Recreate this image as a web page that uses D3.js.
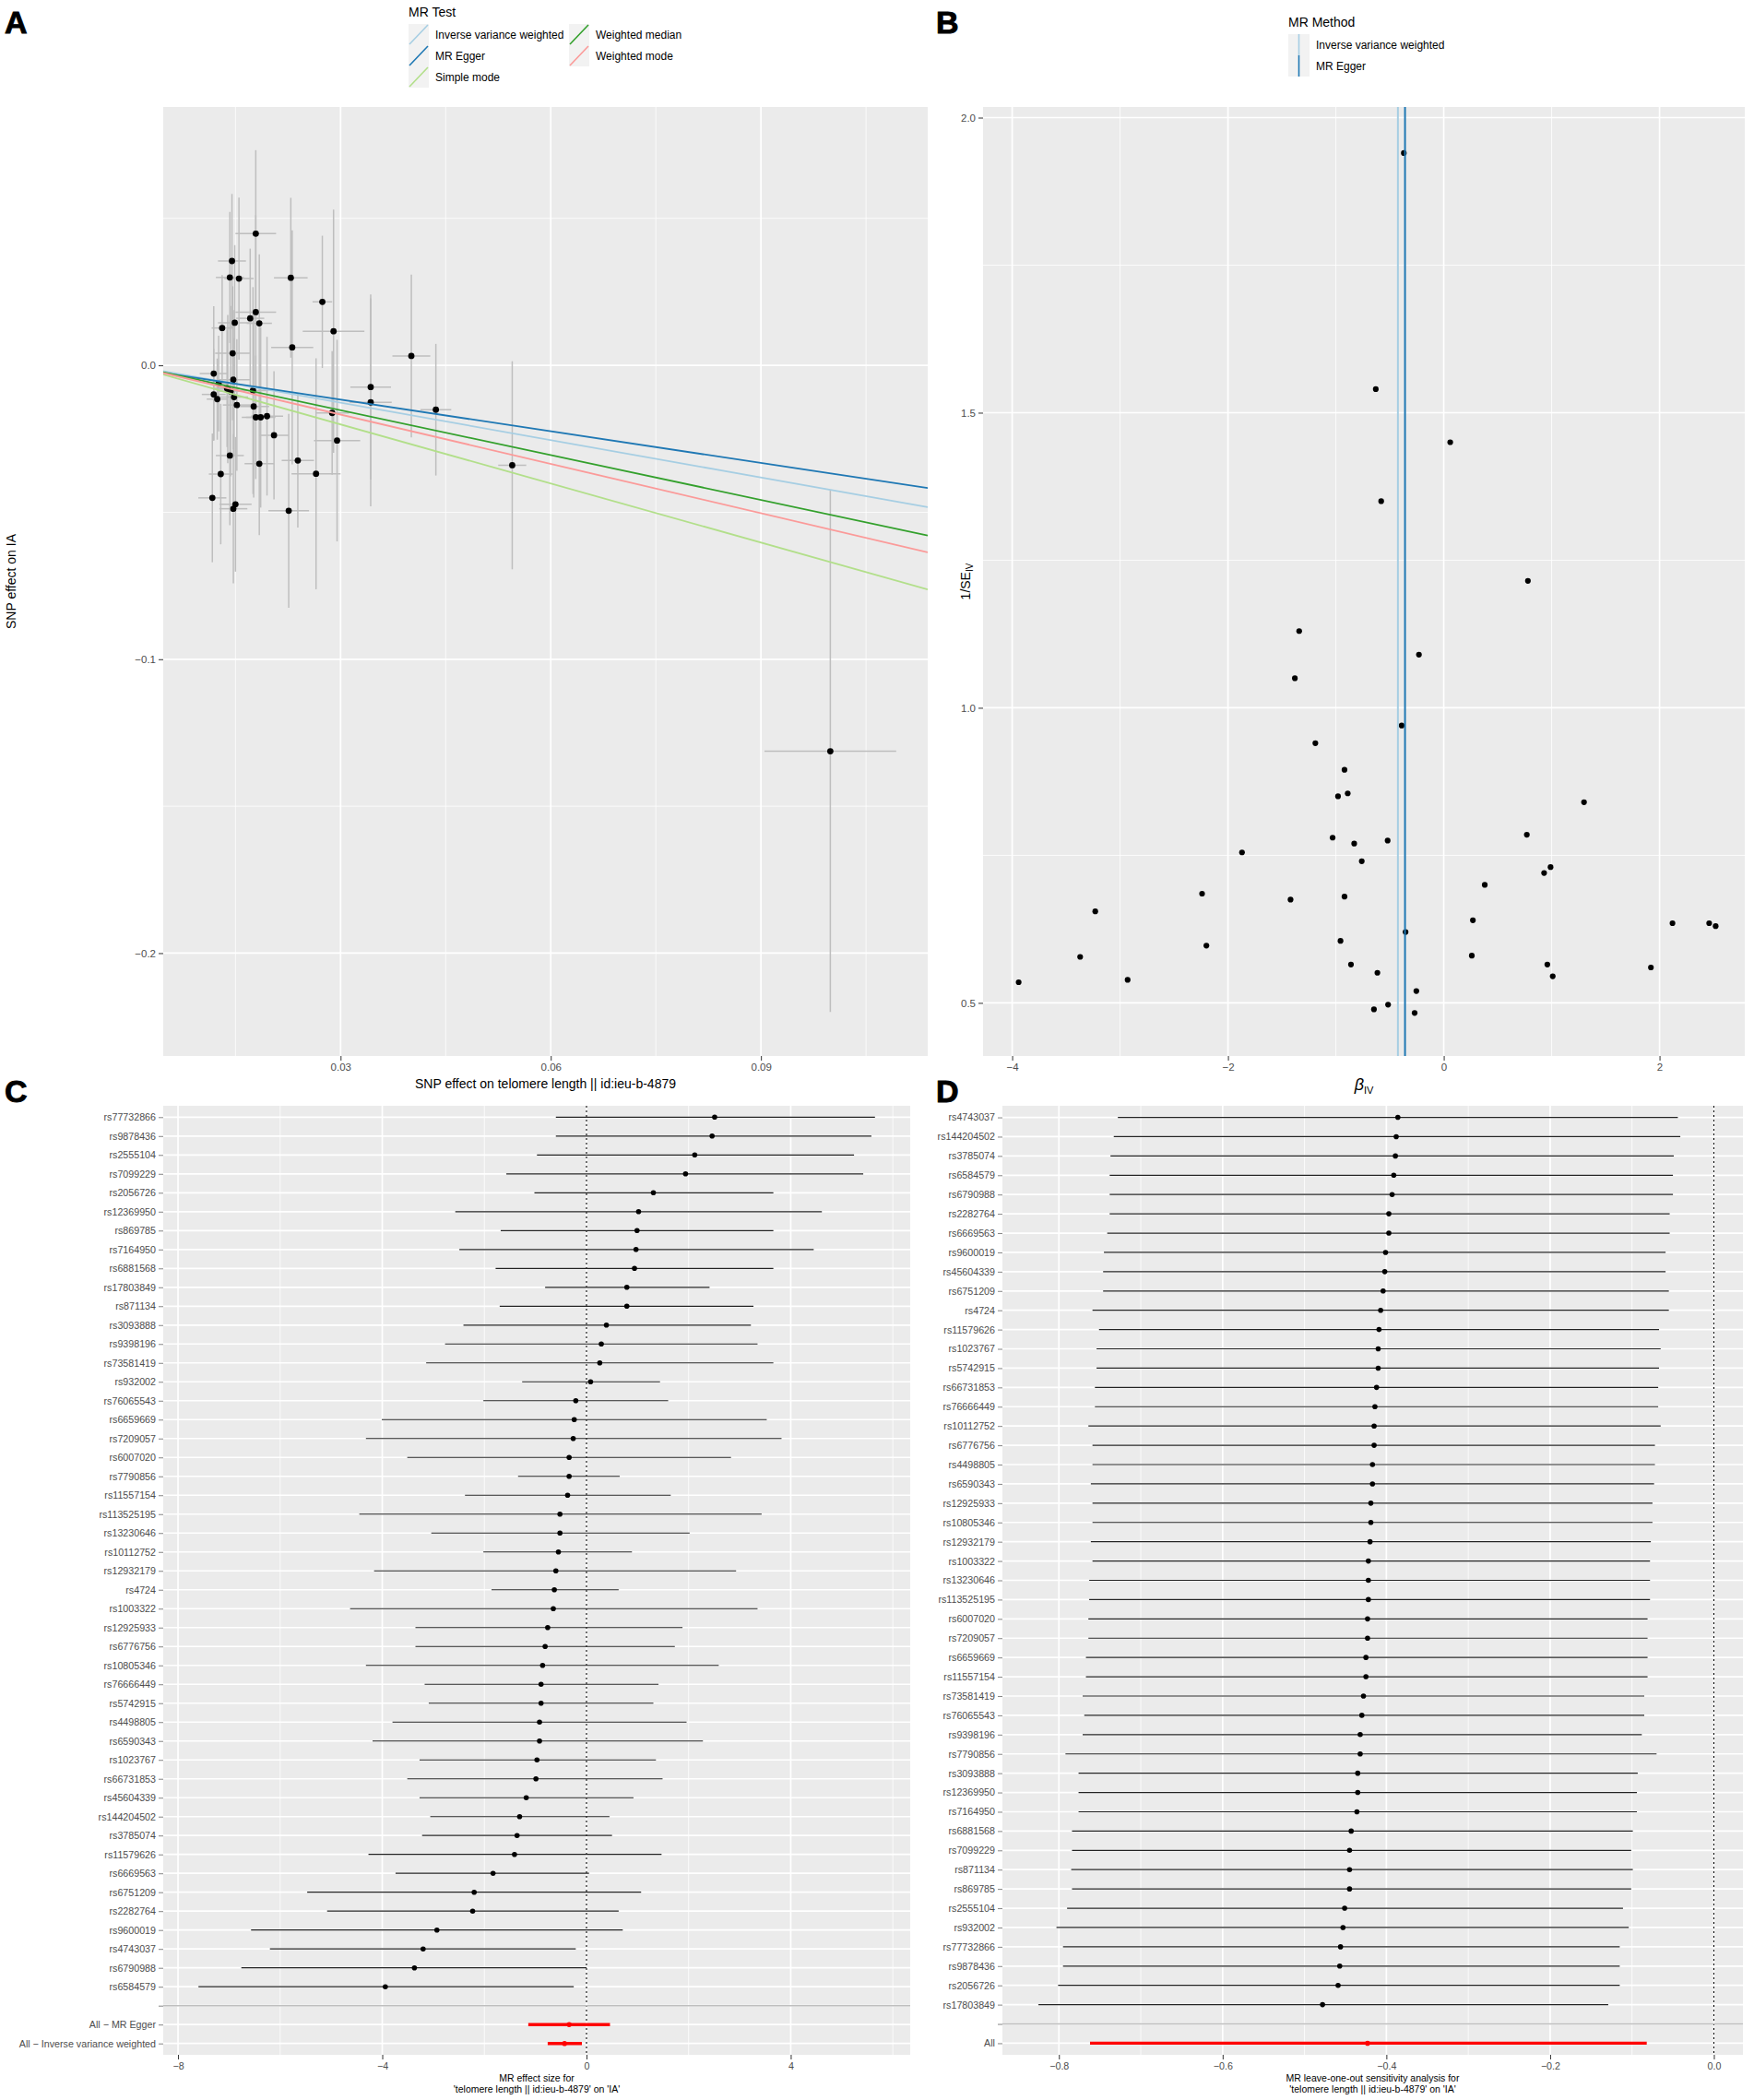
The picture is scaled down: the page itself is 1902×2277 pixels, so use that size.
<!DOCTYPE html>
<html>
<head>
<meta charset="utf-8">
<script src="https://cdn.jsdelivr.net/npm/d3@7"></script>
<style>
  body { margin: 0; background: #fff; }
  svg { display: block; }
  text { font-family: "Liberation Sans", Arial, Helvetica, sans-serif; }
</style>
</head>
<body>
<svg id="fig" width="1902" height="2277"></svg>
<script>
/* ---------- A: scatter, SNP effects ---------- */
const scatterBx   = [0.0179,0.0145,0.0142,0.0155,0.0229,0.0274,0.0290,0.0179,0.0171,0.0149,0.0184,0.0131,0.0231,0.0146,0.0401,0.0119,0.0147,0.0126,0.0139,0.0143,0.0175,0.0119,0.0148,0.0124,0.0152,0.0343,0.0343,0.0176,0.0179,0.0186,0.0195,0.0288,0.0436,0.0205,0.0295,0.0142,0.0184,0.0239,0.0129,0.0265,0.0117,0.0150,0.0147,0.0226,0.0545,0.0999,0.0138];
const scatterBy   = [0.0448,0.0355,0.0299,0.0295,0.0298,0.0216,0.0116,0.0181,0.0160,0.0145,0.0143,0.0127,0.0061,0.0041,0.0032,-0.0028,-0.0049,-0.0062,-0.0081,-0.0088,-0.0086,-0.0099,-0.0108,-0.0115,-0.0135,-0.0074,-0.0126,-0.0140,-0.0177,-0.0177,-0.0173,-0.0162,-0.0151,-0.0238,-0.0256,-0.0307,-0.0335,-0.0324,-0.0370,-0.0369,-0.0451,-0.0473,-0.0488,-0.0495,-0.0340,-0.1313,-0.0078];
const scatterSeBx = [0.0029,0.0020,0.0020,0.0021,0.0024,0.0014,0.0044,0.0029,0.0020,0.0024,0.0018,0.0015,0.0030,0.0025,0.0027,0.0020,0.0024,0.0015,0.0016,0.0018,0.0022,0.0017,0.0020,0.0015,0.0020,0.0029,0.0030,0.0022,0.0020,0.0021,0.0023,0.0024,0.0022,0.0021,0.0033,0.0020,0.0021,0.0023,0.0017,0.0035,0.0020,0.0023,0.0020,0.0029,0.0020,0.0094,0.0018];
const scatterSeBy = [0.0284,0.0228,0.0223,0.0276,0.0272,0.0225,0.0414,0.0330,0.0237,0.0264,0.0235,0.0180,0.0398,0.0228,0.0277,0.0229,0.0237,0.0163,0.0252,0.0290,0.0352,0.0155,0.0200,0.0138,0.0224,0.0315,0.0354,0.0310,0.0210,0.0307,0.0270,0.0210,0.0224,0.0218,0.0343,0.0237,0.0243,0.0228,0.0239,0.0393,0.0219,0.0229,0.0254,0.0330,0.0354,0.0887,0.0200];
const mrMethods    = ["Inverse variance weighted","MR Egger","Simple mode","Weighted median","Weighted mode"];
const mrSlopes     = [-0.424,-0.359,-0.670,-0.509,-0.559];
const mrIntercepts = [0,-0.0009,0,0,0];
const scatterTicksX = [0.03,0.06,0.09];
const scatterTicksY = [-0.2,-0.1,0.0];

/* ---------- B: funnel ---------- */
const funnelBeta  = [-0.37,-0.63,-0.58,0.06,0.78,-1.34,-0.23,-1.38,-0.39,-1.19,-0.92,-0.89,-0.98,1.30,-1.03,-0.83,-0.52,-0.76,-1.87,0.77,-2.24,-1.42,-0.92,0.38,0.99,0.93,-3.23,0.27,-0.354,2.12,2.46,2.52,-2.20,-0.957,-3.37,0.26,-0.86,0.96,1.92,-0.615,1.01,-2.93,-3.94,-0.254,-0.516,-0.647,-0.27];
const funnelInvSe = [1.94,1.54,1.35,1.45,1.215,1.13,1.09,1.05,0.97,0.94,0.895,0.855,0.85,0.84,0.78,0.77,0.775,0.74,0.755,0.785,0.685,0.675,0.68,0.70,0.73,0.72,0.655,0.64,0.62,0.635,0.635,0.63,0.597,0.605,0.578,0.58,0.565,0.565,0.56,0.551,0.545,0.539,0.535,0.52,0.497,0.489,0.483];
const funnelMethods   = ["Inverse variance weighted","MR Egger"];
const funnelEstimates = [-0.425,-0.359];
const funnelTicksX = [-4,-2,0,2];
const funnelTicksY = [0.5,1.0,1.5,2.0];

/* ---------- C: forest ---------- */
const forestSnps = ["rs77732866","rs9878436","rs2555104","rs7099229","rs2056726","rs12369950","rs869785","rs7164950","rs6881568","rs17803849","rs871134","rs3093888","rs9398196","rs73581419","rs932002","rs76065543","rs6659669","rs7209057","rs6007020","rs7790856","rs11557154","rs113525195","rs13230646","rs10112752","rs12932179","rs4724","rs1003322","rs12925933","rs6776756","rs10805346","rs76666449","rs5742915","rs4498805","rs6590343","rs1023767","rs66731853","rs45604339","rs144204502","rs3785074","rs11579626","rs6669563","rs6751209","rs2282764","rs9600019","rs4743037","rs6790988","rs6584579"];
const forestB  = [2.51,2.46,2.12,1.94,1.31,1.02,0.99,0.97,0.94,0.79,0.79,0.39,0.29,0.26,0.08,-0.21,-0.24,-0.26,-0.34,-0.34,-0.37,-0.52,-0.52,-0.55,-0.60,-0.63,-0.65,-0.76,-0.81,-0.86,-0.89,-0.89,-0.92,-0.92,-0.97,-0.99,-1.18,-1.31,-1.36,-1.41,-1.83,-2.20,-2.23,-2.93,-3.20,-3.37,-3.94];
const forestLo = [-0.60,-0.60,-0.97,-1.57,-1.02,-2.57,-1.68,-2.49,-1.78,-0.81,-1.70,-2.41,-2.77,-3.14,-1.26,-2.02,-4.01,-4.32,-3.51,-1.34,-2.38,-4.45,-3.04,-2.02,-4.16,-1.86,-4.63,-3.35,-3.35,-4.32,-3.17,-3.09,-3.80,-4.19,-3.27,-3.51,-3.27,-3.06,-3.22,-4.27,-3.74,-5.47,-5.08,-6.57,-6.20,-6.76,-7.60];
const forestHi = [5.65,5.58,5.24,5.42,3.66,4.61,3.66,4.45,3.66,2.41,3.27,3.22,3.35,3.66,1.44,1.60,3.53,3.82,2.83,0.65,1.65,3.43,2.02,0.89,2.93,0.63,3.35,1.88,1.73,2.59,1.41,1.31,1.96,2.28,1.36,1.49,0.92,0.45,0.50,1.47,0.05,1.07,0.63,0.71,-0.21,0.00,-0.25];
const forestAll   = ["All − MR Egger","All − Inverse variance weighted"];
const forestAllB  = [-0.34,-0.43];
const forestAllLo = [-1.14,-0.76];
const forestAllHi = [0.46,-0.09];
const forestTicks = [-8,-4,0,4];

/* ---------- D: leave-one-out ---------- */
const looSnps = ["rs4743037","rs144204502","rs3785074","rs6584579","rs6790988","rs2282764","rs6669563","rs9600019","rs45604339","rs6751209","rs4724","rs11579626","rs1023767","rs5742915","rs66731853","rs76666449","rs10112752","rs6776756","rs4498805","rs6590343","rs12925933","rs10805346","rs12932179","rs1003322","rs13230646","rs113525195","rs6007020","rs7209057","rs6659669","rs11557154","rs73581419","rs76065543","rs9398196","rs7790856","rs3093888","rs12369950","rs7164950","rs6881568","rs7099229","rs871134","rs869785","rs2555104","rs932002","rs77732866","rs9878436","rs2056726","rs17803849"];
const looB  = [-0.386,-0.388,-0.389,-0.391,-0.393,-0.397,-0.397,-0.401,-0.402,-0.404,-0.407,-0.409,-0.410,-0.410,-0.412,-0.414,-0.415,-0.415,-0.417,-0.417,-0.419,-0.419,-0.420,-0.422,-0.422,-0.422,-0.423,-0.423,-0.425,-0.425,-0.428,-0.430,-0.432,-0.432,-0.435,-0.435,-0.436,-0.443,-0.445,-0.445,-0.445,-0.451,-0.453,-0.456,-0.457,-0.459,-0.478];
const looLo = [-0.728,-0.733,-0.737,-0.738,-0.738,-0.738,-0.741,-0.745,-0.746,-0.746,-0.759,-0.751,-0.754,-0.754,-0.756,-0.756,-0.764,-0.759,-0.759,-0.761,-0.759,-0.759,-0.761,-0.759,-0.763,-0.763,-0.764,-0.764,-0.767,-0.767,-0.771,-0.769,-0.771,-0.792,-0.776,-0.776,-0.776,-0.784,-0.784,-0.785,-0.784,-0.790,-0.803,-0.795,-0.795,-0.801,-0.825];
const looHi = [-0.044,-0.041,-0.049,-0.050,-0.050,-0.054,-0.054,-0.059,-0.059,-0.055,-0.055,-0.067,-0.065,-0.067,-0.068,-0.068,-0.065,-0.072,-0.072,-0.073,-0.075,-0.075,-0.077,-0.078,-0.078,-0.078,-0.081,-0.081,-0.081,-0.081,-0.085,-0.085,-0.088,-0.070,-0.093,-0.094,-0.094,-0.099,-0.101,-0.099,-0.101,-0.111,-0.104,-0.115,-0.115,-0.115,-0.129];
const looAll   = ["All"];
const looAllB  = [-0.423];
const looAllLo = [-0.762];
const looAllHi = [-0.082];
const looTicks = [-0.8,-0.6,-0.4,-0.2,0.0];

/* ---------- dibujo ---------- */
const svg = d3.select('#fig');
const mrColors = ["#a6cee3","#1f78b4","#b2df8a","#33a02c","#fb9a99"];
const panelFill = '#ebebeb';

function panel(box, xs, ys, xMajor, xMinor, yMajor, yMinor) {
  const g = svg.append('g');
  g.append('rect').attr('x', box.x0).attr('y', box.y0)
    .attr('width', box.x1 - box.x0).attr('height', box.y1 - box.y0).attr('fill', panelFill);
  g.selectAll('line.vmin').data(xMinor).join('line').attr('class', 'vmin')
    .attr('x1', d => xs(d)).attr('x2', d => xs(d)).attr('y1', box.y0).attr('y2', box.y1)
    .attr('stroke', '#fff').attr('stroke-width', 0.8);
  g.selectAll('line.hmin').data(yMinor).join('line').attr('class', 'hmin')
    .attr('y1', d => ys(d)).attr('y2', d => ys(d)).attr('x1', box.x0).attr('x2', box.x1)
    .attr('stroke', '#fff').attr('stroke-width', 0.8);
  g.selectAll('line.vmaj').data(xMajor).join('line').attr('class', 'vmaj')
    .attr('x1', d => xs(d)).attr('x2', d => xs(d)).attr('y1', box.y0).attr('y2', box.y1)
    .attr('stroke', '#fff').attr('stroke-width', 1.7);
  g.selectAll('line.hmaj').data(yMajor).join('line').attr('class', 'hmaj')
    .attr('y1', d => ys(d)).attr('y2', d => ys(d)).attr('x1', box.x0).attr('x2', box.x1)
    .attr('stroke', '#fff').attr('stroke-width', 1.7);
  return g;
}

function styleAxis(a, size, tickW) {
  a.select('.domain').remove();
  a.selectAll('.tick line').attr('stroke', '#333').attr('stroke-width', tickW);
  a.selectAll('.tick text').attr('fill', '#4d4d4d').attr('font-size', size)
    .attr('font-family', '"Liberation Sans", Arial, sans-serif');
}

function clip(id, box) {
  svg.append('clipPath').attr('id', id).append('rect')
    .attr('x', box.x0).attr('y', box.y0).attr('width', box.x1 - box.x0).attr('height', box.y1 - box.y0);
}

/* letras de panel */
[['A', 5, 36], ['B', 1015, 36], ['C', 5, 1195], ['D', 1015, 1195]].forEach(([t, x, y]) => {
  svg.append('text').attr('x', x).attr('y', y).text(t)
    .attr('font-size', 34).attr('font-weight', 'bold').attr('fill', '#000')
    .attr('stroke', '#000').attr('stroke-width', 0.9);
});

/* ===== Panel A ===== */
const boxA = {x0: 177, x1: 1006, y0: 116, y1: 1145};
const ax = d3.scaleLinear().domain([0.00469, 0.1138]).range([boxA.x0, boxA.x1]);
const ay = d3.scaleLinear().domain([-0.235, 0.0879]).range([boxA.y1, boxA.y0]);
panel(boxA, ax, ay, scatterTicksX, [0.015,0.045,0.075,0.105], scatterTicksY, [-0.15,-0.05,0.05]);
clip('clipA', boxA);
const gA = svg.append('g').attr('clip-path', 'url(#clipA)');
const idxA = d3.range(scatterBx.length);
gA.selectAll('line.ev').data(idxA).join('line').attr('class', 'ev')
  .attr('x1', i => ax(scatterBx[i])).attr('x2', i => ax(scatterBx[i]))
  .attr('y1', i => ay(scatterBy[i] - scatterSeBy[i])).attr('y2', i => ay(scatterBy[i] + scatterSeBy[i]))
  .attr('stroke', '#bebebe').attr('stroke-width', 1.5);
gA.selectAll('line.eh').data(idxA).join('line').attr('class', 'eh')
  .attr('y1', i => ay(scatterBy[i])).attr('y2', i => ay(scatterBy[i]))
  .attr('x1', i => ax(scatterBx[i] - scatterSeBx[i])).attr('x2', i => ax(scatterBx[i] + scatterSeBx[i]))
  .attr('stroke', '#bebebe').attr('stroke-width', 1.5);
gA.selectAll('circle').data(idxA).join('circle')
  .attr('cx', i => ax(scatterBx[i])).attr('cy', i => ay(scatterBy[i])).attr('r', 3.4).attr('fill', '#000');
const xd = ax.domain();
gA.selectAll('line.fit').data(d3.range(mrMethods.length)).join('line').attr('class', 'fit')
  .attr('x1', ax(xd[0])).attr('x2', ax(xd[1]))
  .attr('y1', i => ay(mrIntercepts[i] + mrSlopes[i] * xd[0]))
  .attr('y2', i => ay(mrIntercepts[i] + mrSlopes[i] * xd[1]))
  .attr('stroke', i => mrColors[i]).attr('stroke-width', 1.8);

styleAxis(svg.append('g').attr('transform', `translate(0,${boxA.y1})`)
  .call(d3.axisBottom(ax).tickValues(scatterTicksX).tickFormat(d3.format('.2f')).tickSize(5).tickPadding(3)), 11.5, 1);
styleAxis(svg.append('g').attr('transform', `translate(${boxA.x0},0)`)
  .call(d3.axisLeft(ay).tickValues(scatterTicksY).tickFormat(d3.format('.1f')).tickSize(5).tickPadding(3)), 11.5, 1);
svg.append('text').attr('x', (boxA.x0 + boxA.x1) / 2).attr('y', 1180).attr('text-anchor', 'middle')
  .attr('font-size', 14).text('SNP effect on telomere length || id:ieu-b-4879');
svg.append('text').attr('transform', `translate(17,${(boxA.y0 + boxA.y1) / 2}) rotate(-90)`)
  .attr('text-anchor', 'middle').attr('font-size', 14).text('SNP effect on IA');

/* leyenda A */
const legA = svg.append('g').attr('transform', 'translate(443,0)');
legA.append('text').attr('x', 0).attr('y', 18).attr('font-size', 14).text('MR Test');
mrMethods.forEach((m, i) => {
  const kx = Math.floor(i / 3) * 174, ky = 26 + (i % 3) * 23;
  legA.append('rect').attr('x', kx).attr('y', ky).attr('width', 22).attr('height', 23).attr('fill', '#f2f2f2');
  legA.append('line').attr('x1', kx + 1).attr('y1', ky + 22).attr('x2', kx + 21).attr('y2', ky + 1)
    .attr('stroke', mrColors[i]).attr('stroke-width', 1.6);
  legA.append('text').attr('x', kx + 29).attr('y', ky + 11.5).attr('dy', '0.35em').attr('font-size', 12).text(m);
});

/* ===== Panel B ===== */
const boxB = {x0: 1066, x1: 1892, y0: 116, y1: 1145};
const bx = d3.scaleLinear().domain([-4.27, 2.79]).range([boxB.x0, boxB.x1]);
const by = d3.scaleLinear().domain([0.41, 2.018]).range([boxB.y1, boxB.y0]);
panel(boxB, bx, by, funnelTicksX, [-3,-1,1], funnelTicksY, [0.75,1.25,1.75]);
svg.append('g').selectAll('circle').data(d3.range(funnelBeta.length)).join('circle')
  .attr('cx', i => bx(funnelBeta[i])).attr('cy', i => by(funnelInvSe[i])).attr('r', 3.1).attr('fill', '#000');
svg.append('g').selectAll('line').data(d3.range(funnelMethods.length)).join('line')
  .attr('x1', i => bx(funnelEstimates[i])).attr('x2', i => bx(funnelEstimates[i]))
  .attr('y1', boxB.y0).attr('y2', boxB.y1)
  .attr('stroke', i => mrColors[i]).attr('stroke-width', 2);
styleAxis(svg.append('g').attr('transform', `translate(0,${boxB.y1})`)
  .call(d3.axisBottom(bx).tickValues(funnelTicksX).tickFormat(d3.format('d')).tickSize(5).tickPadding(3)), 11.5, 1);
styleAxis(svg.append('g').attr('transform', `translate(${boxB.x0},0)`)
  .call(d3.axisLeft(by).tickValues(funnelTicksY).tickFormat(d3.format('.1f')).tickSize(5).tickPadding(3)), 11.5, 1);
const bxt = svg.append('text').attr('x', (boxB.x0 + boxB.x1) / 2).attr('y', 1182).attr('text-anchor', 'middle');
bxt.append('tspan').attr('font-size', 18).attr('font-style', 'italic').text('β');
bxt.append('tspan').attr('font-size', 11).attr('dy', 4).text('IV');
const byt = svg.append('text').attr('transform', `translate(1052,${(boxB.y0 + boxB.y1) / 2}) rotate(-90)`)
  .attr('text-anchor', 'middle');
byt.append('tspan').attr('font-size', 14).text('1/SE');
byt.append('tspan').attr('font-size', 10).attr('dy', 3).text('IV');

/* leyenda B */
const legB = svg.append('g').attr('transform', 'translate(1397,0)');
legB.append('text').attr('x', 0).attr('y', 29).attr('font-size', 14).text('MR Method');
funnelMethods.forEach((m, i) => {
  const ky = 37 + i * 23;
  legB.append('rect').attr('x', 0).attr('y', ky).attr('width', 23).attr('height', 23).attr('fill', '#f2f2f2');
  legB.append('line').attr('x1', 11.5).attr('x2', 11.5).attr('y1', ky).attr('y2', ky + 23)
    .attr('stroke', mrColors[i]).attr('stroke-width', 1.6);
  legB.append('text').attr('x', 30).attr('y', ky + 11.5).attr('dy', '0.35em').attr('font-size', 12).text(m);
});

/* ===== Panel C / D (forest style) ===== */
function forest(box, xs, ys, majors, minors, snps, b, lo, hi, allNames, allB, allLo, allHi, wAll) {
  panel(box, xs, ys, majors, minors, ys.domain(), []);
  svg.append('line').attr('x1', xs(0)).attr('x2', xs(0)).attr('y1', box.y0).attr('y2', box.y1)
    .attr('stroke', '#000').attr('stroke-width', 1.1).attr('stroke-dasharray', '2,3');
  const g = svg.append('g');
  g.selectAll('line.snp').data(snps).join('line').attr('class', 'snp')
    .attr('y1', d => ys(d)).attr('y2', d => ys(d))
    .attr('x1', (d, i) => xs(lo[i])).attr('x2', (d, i) => xs(hi[i]))
    .attr('stroke', '#222').attr('stroke-width', 1.2);
  g.selectAll('line.all').data(allNames).join('line').attr('class', 'all')
    .attr('y1', d => ys(d)).attr('y2', d => ys(d))
    .attr('x1', (d, i) => xs(allLo[i])).attr('x2', (d, i) => xs(allHi[i]))
    .attr('stroke', '#ff0000').attr('stroke-width', wAll);
  g.selectAll('circle.snp').data(snps).join('circle').attr('class', 'snp')
    .attr('cx', (d, i) => xs(b[i])).attr('cy', d => ys(d)).attr('r', 2.8).attr('fill', '#000');
  g.selectAll('circle.all').data(allNames).join('circle').attr('class', 'all')
    .attr('cx', (d, i) => xs(allB[i])).attr('cy', d => ys(d)).attr('r', 2.8).attr('fill', '#ff0000');
  svg.append('line').attr('x1', box.x0).attr('x2', box.x1).attr('y1', ys('')).attr('y2', ys(''))
    .attr('stroke', '#bebebe').attr('stroke-width', 1.6);
  styleAxis(svg.append('g').attr('transform', `translate(${box.x0},0)`)
    .call(d3.axisLeft(ys).tickSize(5).tickPadding(3)), 10.7, 0.6);
}

const boxC = {x0: 177, x1: 987, y0: 1199, y1: 2228};
const cx = d3.scaleLinear().domain([-8.29, 6.34]).range([boxC.x0, boxC.x1]);
const cy = d3.scalePoint().domain([...forestSnps, '', ...forestAll]).range([boxC.y0, boxC.y1]).padding(0.6);
forest(boxC, cx, cy, forestTicks, [-6,-2,2,6], forestSnps, forestB, forestLo, forestHi,
  forestAll, forestAllB, forestAllLo, forestAllHi, 3.4);
styleAxis(svg.append('g').attr('transform', `translate(0,${boxC.y1})`)
  .call(d3.axisBottom(cx).tickValues(forestTicks).tickFormat(d3.format('d')).tickSize(5).tickPadding(3)), 10.7, 1);
svg.append('text').attr('x', (boxC.x0 + boxC.x1) / 2).attr('y', 2257).attr('text-anchor', 'middle')
  .attr('font-size', 10.5).text('MR effect size for');
svg.append('text').attr('x', (boxC.x0 + boxC.x1) / 2).attr('y', 2269).attr('text-anchor', 'middle')
  .attr('font-size', 10.5).text("'telomere length || id:ieu-b-4879' on 'IA'");

const boxD = {x0: 1087, x1: 1890, y0: 1199, y1: 2228};
const dx = d3.scaleLinear().domain([-0.869, 0.0355]).range([boxD.x0, boxD.x1]);
const dy = d3.scalePoint().domain([...looSnps, '', ...looAll]).range([boxD.y0, boxD.y1]).padding(0.6);
forest(boxD, dx, dy, looTicks, [-0.7,-0.5,-0.3,-0.1], looSnps, looB, looLo, looHi,
  looAll, looAllB, looAllLo, looAllHi, 3.2);
styleAxis(svg.append('g').attr('transform', `translate(0,${boxD.y1})`)
  .call(d3.axisBottom(dx).tickValues(looTicks).tickFormat(d3.format('.1f')).tickSize(5).tickPadding(3)), 10.7, 1);
svg.append('text').attr('x', (boxD.x0 + boxD.x1) / 2).attr('y', 2257).attr('text-anchor', 'middle')
  .attr('font-size', 10.5).text('MR leave-one-out sensitivity analysis for');
svg.append('text').attr('x', (boxD.x0 + boxD.x1) / 2).attr('y', 2269).attr('text-anchor', 'middle')
  .attr('font-size', 10.5).text("'telomere length || id:ieu-b-4879' on 'IA'");
</script>
</body>
</html>
